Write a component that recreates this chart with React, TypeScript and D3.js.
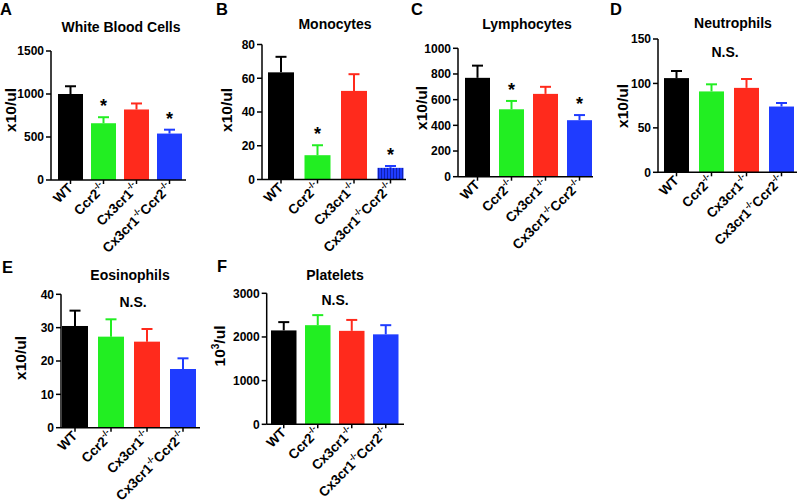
import React from "react";
import * as d3 from "d3";

// ---------- data ----------
const categories = ["WT", "Ccr2", "Cx3cr1", "Cx3cr1Ccr2"];
const barColors = ["#000000", "#22ee22", "#ff2a1c", "#1f3cff"];

const wbcMean = [1000, 660, 820, 540];
const wbcSem = [90, 70, 70, 45];
const wbcTicks = [0, 500, 1000, 1500];
const wbcSig = [false, true, false, true];

const monoMean = [63.5, 14.4, 52.5, 6.9];
const monoSem = [9.2, 5.9, 9.9, 1.1];
const monoTicks = [0, 20, 40, 60, 80];
const monoSig = [false, true, false, true];

const lymphMean = [770, 525, 645, 440];
const lymphSem = [95, 65, 55, 40];
const lymphTicks = [0, 200, 400, 600, 800, 1000];
const lymphSig = [false, true, false, true];

const neutMean = [106, 91, 95, 74];
const neutSem = [8, 8, 10, 4];
const neutTicks = [0, 50, 100, 150];

const eosMean = [30.5, 27.3, 25.8, 17.6];
const eosSem = [4.6, 5.2, 3.8, 3.2];
const eosTicks = [0, 10, 20, 30, 40];

const pltMean = [2150, 2270, 2140, 2060];
const pltSem = [190, 230, 250, 210];
const pltTicks = [0, 1000, 2000, 3000];

const noSig = [false, false, false, false];

// ---------- panels ----------
const panels = [
  { letter: "A", title: "White Blood Cells", ylab: "x10/ul", means: wbcMean, sems: wbcSem, ticks: wbcTicks, sig: wbcSig, ns: false },
  { letter: "B", title: "Monocytes", ylab: "x10/ul", means: monoMean, sems: monoSem, ticks: monoTicks, sig: monoSig, ns: false },
  { letter: "C", title: "Lymphocytes", ylab: "x10/ul", means: lymphMean, sems: lymphSem, ticks: lymphTicks, sig: lymphSig, ns: false },
  { letter: "D", title: "Neutrophils", ylab: "x10/ul", means: neutMean, sems: neutSem, ticks: neutTicks, sig: noSig, ns: true },
  { letter: "E", title: "Eosinophils", ylab: "x10/ul", means: eosMean, sems: eosSem, ticks: eosTicks, sig: noSig, ns: true },
  { letter: "F", title: "Platelets", ylab: "10³/ul", means: pltMean, sems: pltSem, ticks: pltTicks, sig: noSig, ns: true },
];

// layout (pixel positions)
const layouts = [
  { axisX: 51, y0: 180, yTop: 51, xEnd: 186, barX0: 58, step: 33, barW: 25, tx: 121, ty: 32, nsX: 0, nsY: 0, lx: 0, ly: 15, ylx: 16, yly: 110 },
  { axisX: 262, y0: 179.5, yTop: 44.5, xEnd: 406, barX0: 268, step: 36.5, barW: 26, tx: 335, ty: 29, nsX: 0, nsY: 0, lx: 216, ly: 15, ylx: 232, yly: 110 },
  { axisX: 458, y0: 176.7, yTop: 48.3, xEnd: 593, barX0: 465, step: 34, barW: 25, tx: 527, ty: 29, nsX: 0, nsY: 0, lx: 411, ly: 15, ylx: 427, yly: 108 },
  { axisX: 658, y0: 172.3, yTop: 39, xEnd: 797, barX0: 664, step: 35, barW: 25, tx: 733, ty: 28, nsX: 725, nsY: 57, lx: 610, ly: 15, ylx: 628, yly: 106 },
  { axisX: 61, y0: 427.7, yTop: 294.3, xEnd: 200, barX0: 62, step: 36, barW: 26, tx: 130, ty: 280, nsX: 133, nsY: 307, lx: 2, ly: 273, ylx: 26, yly: 358 },
  { axisX: 266.7, y0: 424.3, yTop: 293.3, xEnd: 404, barX0: 271, step: 34, barW: 25.5, tx: 335, ty: 280, nsX: 335, nsY: 305, lx: 217, ly: 272, ylx: 225, yly: 346 },
];

const FONT = "'Liberation Sans', Arial, Helvetica, sans-serif";

function CatLabel({ cat }: { cat: string }) {
  const sup = (k: string) => (
    <tspan key={k} fontSize="8.5" dy="-6">-/-</tspan>
  );
  if (cat === "WT") return <>WT</>;
  if (cat === "Ccr2") return <>Ccr2{sup("a")}</>;
  if (cat === "Cx3cr1") return <>Cx3cr1{sup("a")}</>;
  return (
    <>
      Cx3cr1{sup("a")}
      <tspan dy="6">Ccr2</tspan>
      {sup("b")}
    </>
  );
}

function Panel({ p, l, idx }: { p: any; l: any; idx: number }) {
  const maxT = p.ticks[p.ticks.length - 1];
  const y = d3.scaleLinear().domain([0, maxT]).range([l.y0, l.yTop]);
  const pad = (l.step - l.barW) / l.step;
  const x = d3
    .scaleBand<string>()
    .domain(categories)
    .range([l.barX0, l.barX0 + 3 * l.step + l.barW])
    .paddingInner(pad)
    .paddingOuter(0);
  const bw = x.bandwidth();
  const capW = 11;
  return (
    <g fontFamily={FONT} fontWeight="bold">
      <text x={l.lx} y={l.ly} fontSize="16.5">{p.letter}</text>
      <text x={l.tx} y={l.ty} fontSize="14" textAnchor="middle">{p.title}</text>
      {p.ns && (
        <text x={l.nsX} y={l.nsY} fontSize="14" textAnchor="middle">N.S.</text>
      )}
      {/* y label */}
      <text transform={`translate(${l.ylx},${l.yly}) rotate(-90)`} fontSize="15.5" textAnchor="middle">
        {p.ylab === "10³/ul" ? (
          <>
            10<tspan fontSize="10" dy="-6">3</tspan>
            <tspan dy="6">/ul</tspan>
          </>
        ) : (
          p.ylab
        )}
      </text>
      {/* bars */}
      {categories.map((c, i) => {
        const x0 = x(c)!;
        const top = y(p.means[i]);
        const errTop = y(p.means[i] + p.sems[i]);
        const cx = x0 + bw / 2;
        const striped = idx === 1 && i === 3;
        return (
          <g key={c}>
            <rect x={x0} y={top} width={bw} height={l.y0 - top} fill={striped ? "url(#stripes)" : barColors[i]} />
            <line x1={cx} x2={cx} y1={top} y2={errTop} stroke={barColors[i]} strokeWidth={2} />
            <line x1={cx - capW / 2} x2={cx + capW / 2} y1={errTop} y2={errTop} stroke={barColors[i]} strokeWidth={2} />
            {p.sig[i] && (
              <text x={cx} y={errTop - 5} fontSize="18" textAnchor="middle">*</text>
            )}
          </g>
        );
      })}
      {/* axes */}
      <line x1={l.axisX} x2={l.axisX} y1={l.yTop} y2={l.y0} stroke="#000" strokeWidth={1.5} />
      <line x1={l.axisX} x2={l.xEnd} y1={l.y0} y2={l.y0} stroke="#000" strokeWidth={1.5} />
      {p.ticks.map((t: number) => (
        <g key={t}>
          <line x1={l.axisX - 5} x2={l.axisX} y1={y(t)} y2={y(t)} stroke="#000" strokeWidth={1.5} />
          <text x={l.axisX - 7} y={y(t)} dy="0.36em" fontSize="12" textAnchor="end">{t}</text>
        </g>
      ))}
      {categories.map((c) => {
        const cx = x(c)! + bw / 2;
        return (
          <g key={c}>
            <line x1={cx} x2={cx} y1={l.y0} y2={l.y0 + 4} stroke="#000" strokeWidth={1.5} />
            <text transform={`translate(${cx + 3},${l.y0 + 9}) rotate(-45)`} fontSize="13.5" textAnchor="end">
              <CatLabel cat={c} />
            </text>
          </g>
        );
      })}
    </g>
  );
}

export default function App() {
  return (
    <svg width={800} height={502} style={{ position: "absolute", left: 0, top: 0, background: "#fff" }}>
      <defs>
        <pattern id="stripes" width="3" height="4" patternUnits="userSpaceOnUse">
          <rect width="3" height="4" fill="#1f3cff" />
          <rect width="1" height="4" fill="#1020b0" />
        </pattern>
      </defs>
      <rect width={800} height={502} fill="#fff" />
      {panels.map((p, i) => (
        <Panel key={p.letter} p={p} l={layouts[i]} idx={i} />
      ))}
    </svg>
  );
}
